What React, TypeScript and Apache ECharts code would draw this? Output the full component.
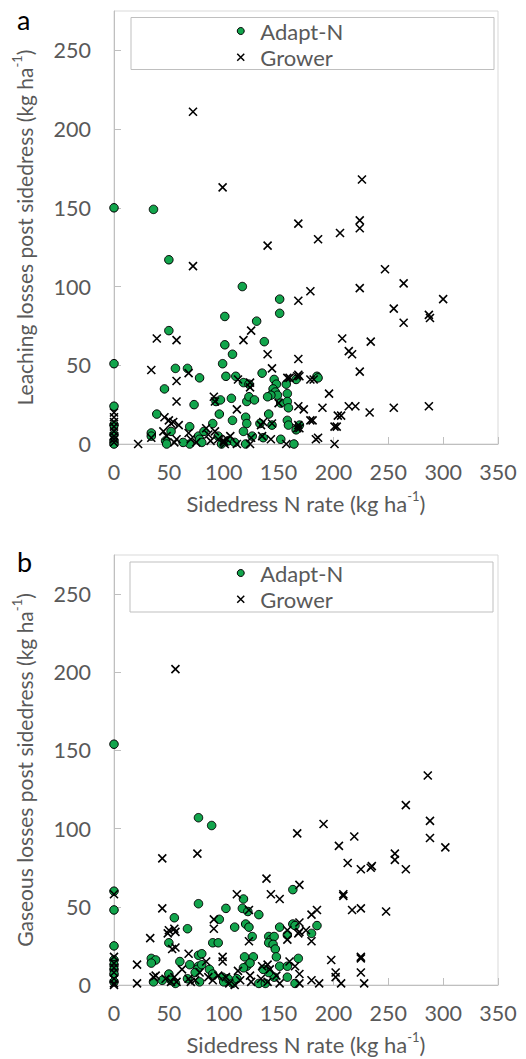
import React, { useEffect, useRef } from "react";
import * as echarts from "echarts";

// ---------- data (x = sidedress N rate, y = losses), kg/ha ----------
const leachAdaptN: number[][] = [
  [0, 150], [0, 51], [0, 24], [0, 12], [0, 6], [0, 2], [0, 0],
  [36, 149], [50, 117], [50, 72], [56, 48], [67, 48], [78, 42], [46, 35], [39, 19], [73, 25],
  [34, 7], [34, 5], [47, 2], [48, 0], [52, 8], [69, 11], [69, 0], [77, 5], [78, 3], [63, 1],
  [117, 100], [101, 81], [101, 63], [108, 57], [99, 51], [102, 43], [111, 43], [130, 78], [137, 65],
  [151, 92], [151, 83], [135, 45], [118, 39], [123, 38], [146, 41], [148, 38], [145, 35], [147, 33],
  [149, 31], [143, 31], [157, 38], [158, 32], [166, 41], [185, 43], [186, 42], [93, 27], [97, 28],
  [107, 29], [121, 27], [123, 30], [152, 26], [158, 27], [159, 23], [96, 19], [108, 15], [120, 17],
  [121, 13], [141, 19], [133, 13], [144, 12], [158, 15], [159, 12], [166, 9], [169, 12], [90, 13],
  [95, 5], [82, 8], [126, 5], [152, 3], [136, 4], [164, 0], [118, 8], [104, 2], [110, 1], [120, 0],
  [128, 28], [140, 30], [98, 0], [80, 1],
];

const leachGrower: number[][] = [
  [0, 20], [0, 17], [0, 14], [0, 11], [0, 8], [0, 5], [0, 3], [0, 1],
  [72, 211], [99, 163], [226, 168], [168, 140], [140, 126], [186, 130], [206, 134], [224, 142],
  [224, 137], [72, 113], [247, 111], [224, 99], [264, 102], [179, 97], [168, 91], [300, 92],
  [255, 86], [287, 82], [288, 80], [264, 77], [125, 72], [118, 66], [208, 67], [234, 65], [39, 67],
  [57, 66], [140, 57], [214, 59], [217, 57], [168, 54], [34, 47], [144, 48], [224, 46], [57, 40],
  [168, 44], [169, 43], [158, 42], [179, 41], [182, 41], [68, 45], [113, 41], [124, 39], [124, 36],
  [57, 27], [91, 30], [92, 27], [196, 32], [112, 22], [168, 24], [173, 22], [190, 23], [214, 24],
  [220, 24], [233, 20], [255, 23], [287, 24], [204, 18], [207, 18], [201, 11], [179, 15], [184, 3],
  [201, 0], [135, 5], [168, 12], [169, 10], [22, 0], [34, 4], [46, 17], [50, 15], [52, 13], [54, 14],
  [59, 12], [57, 3], [48, 5], [55, 1], [45, 8], [68, 7], [70, 3], [75, 1], [84, 10], [86, 6], [88, 2],
  [92, 8], [95, 3], [100, 1], [100, 2], [101, 0], [103, 3], [106, 5], [112, 0], [124, 0], [125, 4],
  [136, 14], [134, 12], [144, 13], [143, 3], [157, 0], [167, 10], [181, 15], [203, 11], [186, 4],
  [150, 26], [160, 42], [167, 43],
];

const gasAdaptN: number[][] = [
  [0, 154], [0, 60], [0, 48], [0, 25], [0, 16], [0, 13], [0, 10], [0, 7], [0, 2],
  [34, 17], [38, 16], [34, 14], [36, 2], [44, 3], [50, 27], [50, 7], [52, 3], [55, 43], [67, 36],
  [77, 19], [77, 12], [76, 10], [67, 4], [74, 8], [78, 2], [60, 15], [69, 13], [77, 52], [77, 107],
  [89, 102], [56, 1], [80, 20], [80, 13], [87, 10], [90, 7], [90, 27], [95, 27], [96, 42], [99, 5],
  [102, 49], [100, 2], [104, 4], [108, 1], [110, 37], [117, 49], [118, 55], [120, 39], [122, 47],
  [123, 37], [126, 31], [119, 18], [127, 18], [121, 12], [124, 14], [132, 45], [132, 1], [138, 1],
  [141, 31], [143, 29], [146, 31], [141, 27], [145, 26], [147, 23], [148, 18], [146, 5], [151, 37],
  [151, 12], [158, 12], [158, 32], [158, 5], [163, 39], [165, 38], [165, 1], [163, 61], [168, 17],
  [180, 33], [185, 38], [141, 8], [136, 10], [112, 4], [118, 11],
];

const gasGrower: number[][] = [
  [0, 58], [0, 18], [0, 14], [0, 11], [0, 8], [0, 4], [0, 1], [0, 0],
  [56, 202], [286, 134], [44, 81], [76, 84], [167, 97], [191, 103], [205, 89], [219, 95], [213, 78],
  [225, 74], [234, 75], [235, 76], [256, 84], [256, 80], [266, 115], [266, 74], [288, 105], [288, 94],
  [302, 88], [248, 47], [209, 58], [209, 57], [217, 48], [225, 49], [139, 68], [169, 64], [143, 58],
  [151, 55], [112, 58], [44, 49], [123, 48], [185, 48], [180, 45], [169, 40], [175, 35], [169, 34],
  [168, 33], [180, 28], [158, 35], [158, 29], [123, 28], [91, 42], [91, 36], [55, 36], [56, 34],
  [50, 35], [49, 33], [33, 30], [56, 24], [53, 23], [198, 16], [225, 18], [225, 17], [225, 8],
  [202, 8], [202, 5], [169, 7], [169, 1], [180, 3], [187, 1], [207, 1], [228, 1], [21, 13], [21, 1],
  [36, 5], [38, 6], [47, 4], [52, 2], [57, 2], [55, 5], [68, 4], [70, 2], [74, 3], [84, 15], [86, 5],
  [90, 3], [95, 6], [99, 18], [99, 15], [102, 5], [105, 1], [113, 9], [115, 3], [124, 6], [125, 2],
  [135, 12], [140, 13], [134, 4], [140, 2], [148, 6], [151, 1], [160, 15], [165, 12], [142, 10],
  [62, 10], [68, 20], [78, 8], [110, 0],
];

const seriesNames = ["Adapt-N", "Grower"];
const panelLabels = ["a", "b"];
const xAxisTitle = "Sidedress N rate (kg ha{sup|-1})";
const yAxisTitles = [
  "Leaching losses post sidedress (kg ha{sup|-1})",
  "Gaseous losses post sidedress (kg ha{sup|-1})",
];

const FONT = "Lato, 'Noto Sans', sans-serif";
const GREEN = "#12a54c";
const CROSS = "path://M0,0L10,10M10,0L0,10";
const AXIS_GRAY = "#bfbfbf";
const TEXT_GRAY = "#595959";

export default function App() {
  const ref = useRef<HTMLDivElement>(null);

  useEffect(() => {
    document.body.style.margin = "0";
    if (!ref.current) return;
    const chart = echarts.init(ref.current, null, { renderer: "svg" });

    const grids = [
      { left: 114, top: 11, width: 384, height: 433 },
      { left: 114, top: 555, width: 384, height: 433 },
    ];

    const nameRich = {
      sup: { fontSize: 13, lineHeight: 14, verticalAlign: "top", color: TEXT_GRAY, fontFamily: FONT },
    };

    const xAxes = grids.map((_, i) => ({
      type: "value",
      gridIndex: i,
      min: 0,
      max: 350,
      interval: 50,
      axisLine: { show: true, lineStyle: { color: AXIS_GRAY, width: 1 } },
      axisTick: { show: true, inside: true, length: 7, lineStyle: { color: AXIS_GRAY } },
      splitLine: { show: false },
      axisLabel: { fontSize: 21.5, color: TEXT_GRAY, fontFamily: FONT, margin: 17 },
      name: xAxisTitle,
      nameLocation: "middle",
      nameGap: 45,
      nameTextStyle: { fontSize: 22, lineHeight: 28, color: TEXT_GRAY, fontFamily: FONT, rich: nameRich },
    }));

    const yAxes = grids.map((_, i) => ({
      type: "value",
      gridIndex: i,
      min: 0,
      max: 275,
      interval: 50,
      axisLine: { show: true, lineStyle: { color: AXIS_GRAY, width: 1 } },
      axisTick: { show: true, inside: true, length: 7, lineStyle: { color: AXIS_GRAY } },
      splitLine: { show: false },
      axisLabel: {
        fontSize: 21.5, color: TEXT_GRAY, fontFamily: FONT, margin: 23,
        showMaxLabel: false,
        formatter: (v: number) => (v % 50 === 0 ? String(v) : ""),
      },
      name: yAxisTitles[i],
      nameLocation: "middle",
      nameGap: 76,
      nameTextStyle: { fontSize: 21, lineHeight: 28, color: TEXT_GRAY, fontFamily: FONT, rich: nameRich },
    }));

    const panels = [
      [leachAdaptN, leachGrower],
      [gasAdaptN, gasGrower],
    ];

    const series: any[] = [];
    panels.forEach((p, i) => {
      series.push({
        type: "scatter",
        name: seriesNames[0],
        xAxisIndex: i,
        yAxisIndex: i,
        data: p[0],
        symbol: "circle",
        symbolSize: 8.5,
        itemStyle: { color: GREEN, borderColor: "#000", borderWidth: 1, opacity: 1 },
        z: 2,
      });
      series.push({
        type: "scatter",
        name: seriesNames[1],
        xAxisIndex: i,
        yAxisIndex: i,
        data: p[1],
        symbol: CROSS,
        symbolSize: 8,
        itemStyle: { color: "transparent", borderColor: "#000", borderWidth: 1.6, opacity: 1 },
        z: 3,
      });
    });

    const legendTops = [15, 557];
    const legends = legendTops.map((top) => ({
      top,
      left: 231.5,
      orient: "vertical",
      itemWidth: 7,
      itemHeight: 7,
      itemGap: 4.3,
      selectedMode: false,
      textStyle: { fontSize: 22, lineHeight: 22, color: TEXT_GRAY, fontFamily: FONT, padding: [0, 0, 0, 11] },
      data: [
        { name: seriesNames[0], icon: "circle", itemStyle: { color: GREEN, borderColor: "#000", borderWidth: 1 } },
        { name: seriesNames[1], icon: CROSS, itemStyle: { color: "transparent", borderColor: "#000", borderWidth: 1.5 } },
      ],
    }));

    const legendBoxes = [
      { x: 131, y: 17.5, w: 363, h: 52 },
      { x: 130, y: 562, w: 363, h: 50 },
    ];
    const labelY = [19, 561];

    const graphic: any[] = [];
    legendBoxes.forEach((b) => {
      graphic.push({
        type: "rect",
        shape: { x: b.x, y: b.y, width: b.w, height: b.h },
        style: { fill: "#fff", stroke: AXIS_GRAY, lineWidth: 1 },
        z: 1,
        silent: true,
      });
    });
    panelLabels.forEach((t, i) => {
      graphic.push({
        type: "text",
        x: 17,
        y: labelY[i],
        style: { text: t, fontSize: 27, fontFamily: FONT, fill: "#000", verticalAlign: "middle", align: "left" },
      });
    });

    chart.setOption({
      animation: false,
      backgroundColor: "#fff",
      grid: grids.map((g) => ({ ...g, show: true, borderColor: "#d9d9d9", borderWidth: 1, backgroundColor: "transparent" })),
      xAxis: xAxes,
      yAxis: yAxes,
      legend: legends,
      graphic,
      series,
    });

    return () => chart.dispose();
  }, []);

  return <div ref={ref} style={{ width: 526, height: 1059 }} />;
}
